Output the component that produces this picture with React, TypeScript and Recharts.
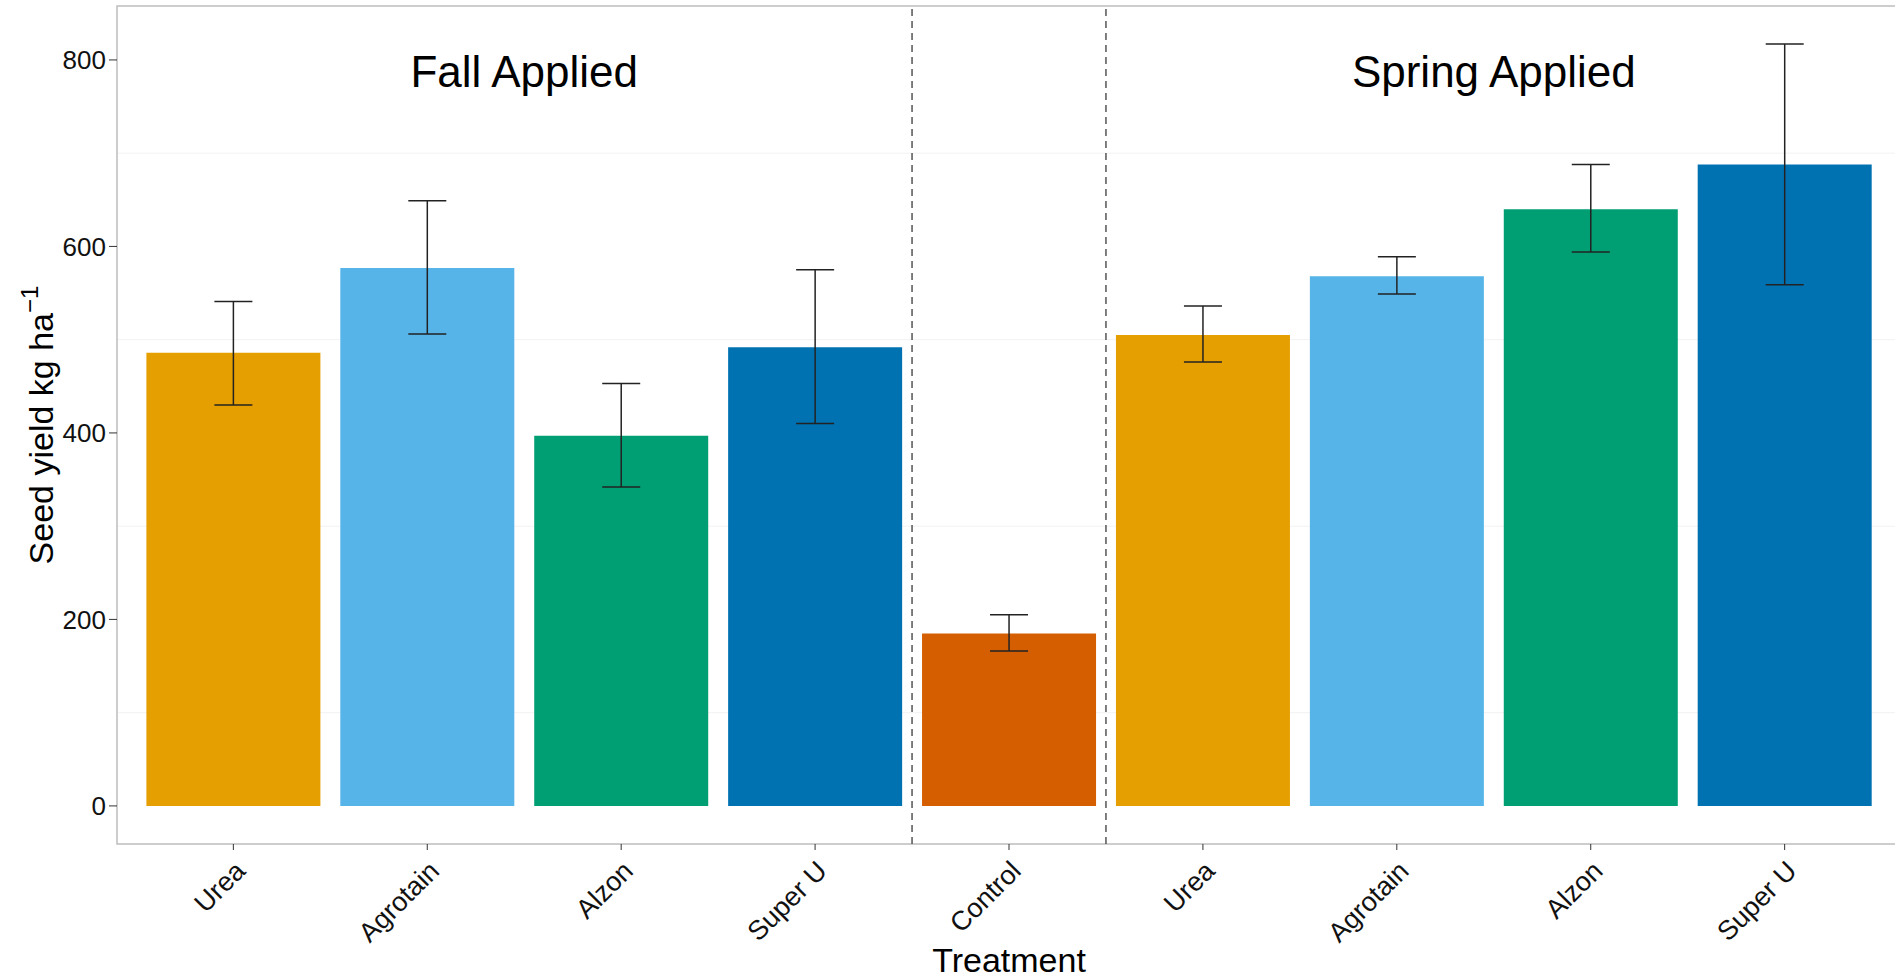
import {
    BarChart,
    Bar,
    Cell,
    XAxis,
    YAxis,
    CartesianGrid,
    ErrorBar,
    ReferenceLine,
    ReferenceArea,
    ReferenceDot,
    Label,
} from "recharts";

const treatments = ["Urea", "Agrotain", "Alzon", "Super U", "Control", "Urea", "Agrotain", "Alzon", "Super U"];
const positions = [1, 2, 3, 4, 5, 6, 7, 8, 9];
const seedYield = [486, 577, 397, 492, 185, 505, 568, 640, 688];
const lowerBound = [430, 506, 342, 410, 166, 476, 549, 594, 559];
const upperBound = [541, 649, 453, 575, 205, 536, 589, 688, 817];
const barColors = ["#E69F00", "#56B4E9", "#009E73", "#0072B2", "#D55E00", "#E69F00", "#56B4E9", "#009E73", "#0072B2"];

const yTicks = [0, 200, 400, 600, 800];
const minorGrid = [100, 300, 500, 700];
const dividers = [4.5, 5.5];
const sectionNames = ["Fall Applied", "Spring Applied"];
const sectionCenters = [2.5, 7.5];
const sectionHeight = 788;

const FONT = "'Liberation Sans', Arial, sans-serif";
const yMax = 817 * 1.05;
const yMin = -817 * 0.05;

const rows = positions.map((pos, i) => ({
    pos,
    name: treatments[i],
    value: seedYield[i],
    err: [seedYield[i] - lowerBound[i], upperBound[i] - seedYield[i]],
}));

function TreatmentTick({ x, y, payload }: any) {
    return (
        <g transform={`translate(${x},${y})`}>
            <text
                transform="rotate(-45)"
                textAnchor="end"
                dy="0.71em"
                fontSize={27}
                fontFamily={FONT}
                fill="#111"
            >
                {treatments[payload.value - 1]}
            </text>
        </g>
    );
}

function YTitle() {
    return (
        <text
            transform="rotate(-90, 41, 425)"
            x={41}
            y={437}
            textAnchor="middle"
            fontSize={34}
            fontFamily={FONT}
            fill="#000"
        >
            <tspan>Seed yield kg ha</tspan>
            <tspan dy={-15} fontSize={24}>−1</tspan>
        </text>
    );
}

export default function App() {
    return (
        <div
            style={{
                position: "absolute",
                left: 0,
                top: 0,
                width: 1895,
                height: 978,
                overflow: "hidden",
                background: "#fff",
            }}
        >
            <BarChart
                width={1901}
                height={978}
                data={rows}
                margin={{ top: 6, right: 0, bottom: 0, left: 0 }}
            >
                <CartesianGrid
                    vertical={false}
                    horizontalValues={minorGrid}
                    stroke="#f2f2f2"
                    strokeWidth={1}
                />
                <XAxis
                    dataKey="pos"
                    type="number"
                    domain={[0.4, 9.6]}
                    ticks={positions}
                    interval={0}
                    allowDataOverflow
                    height={134}
                    tick={<TreatmentTick />}
                    tickSize={6}
                    tickMargin={9}
                    tickLine={{ stroke: "#333" }}
                    axisLine={false}
                >
                    <Label
                        value="Treatment"
                        position="insideBottom"
                        offset={6}
                        fontSize={34}
                        fontFamily={FONT}
                        fill="#000"
                    />
                </XAxis>
                <YAxis
                    type="number"
                    domain={[yMin, yMax]}
                    ticks={yTicks}
                    allowDataOverflow
                    width={117}
                    tickSize={8}
                    tickMargin={3}
                    tickLine={{ stroke: "#333" }}
                    axisLine={false}
                    tick={{ fontSize: 26, fontFamily: FONT, fill: "#111" }}
                    label={<YTitle />}
                />
                <ReferenceArea
                    x1={0.4}
                    x2={9.6}
                    y1={yMin}
                    y2={yMax}
                    fill="none"
                    stroke="#bdbdbd"
                    strokeWidth={1.5}
                    ifOverflow="visible"
                />
                <Bar dataKey="value" barSize={174} isAnimationActive={false}>
                    {rows.map((r, i) => (
                        <Cell key={i} fill={barColors[i]} />
                    ))}
                    <ErrorBar
                        dataKey="err"
                        direction="y"
                        width={19}
                        stroke="#222"
                        strokeWidth={1.5}
                    />
                </Bar>
                {dividers.map((d) => (
                    <ReferenceLine
                        key={d}
                        x={d}
                        stroke="#555"
                        strokeWidth={1.5}
                        strokeDasharray="7 5"
                    />
                ))}
                {sectionNames.map((s, i) => (
                    <ReferenceDot
                        key={s}
                        x={sectionCenters[i]}
                        y={sectionHeight}
                        r={1}
                        fill="none"
                        stroke="none"
                        ifOverflow="visible"
                    >
                        <Label
                            value={s}
                            position="center"
                            fontSize={44}
                            fontFamily={FONT}
                            fill="#000"
                        />
                    </ReferenceDot>
                ))}
            </BarChart>
        </div>
    );
}
